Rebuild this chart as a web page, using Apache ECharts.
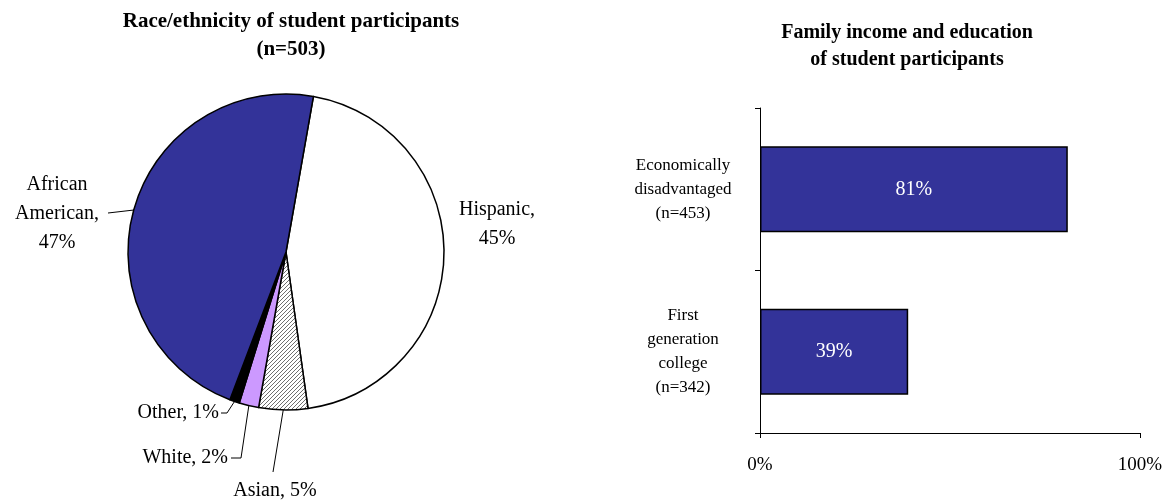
<!DOCTYPE html>
<html>
<head>
<meta charset="utf-8">
<script src="https://cdn.jsdelivr.net/npm/echarts@6/dist/echarts.min.js"></script>
<style>
  html, body { margin: 0; padding: 0; background: #fff; }
  #chart { width: 1170px; height: 501px; }
</style>
</head>
<body>
<div id="chart"></div>
<script>
// race / ethnicity (percent of n=503), clockwise from the top
const raceNames = ['Hispanic', 'Asian', 'White', 'Other', 'African American'];
const raceLabels = ['Hispanic,\n45%', 'Asian, 5%', 'White, 2%', 'Other, 1%', 'African\nAmerican,\n47%'];
const raceValues = [45, 5, 2, 1, 47];

// family income / education
const groupLabels = ['Economically\ndisadvantaged\n(n=453)', 'First\ngeneration\ncollege\n(n=342)'];
const groupValues = [81, 39];
const pctTicks = [0, 100];

const serif = '"Liberation Serif", "Times New Roman", serif';

// grey diagonal hatch for the Asian slice
function hatch() {
    let c = document.createElement('canvas');
    c.width = 8; c.height = 8;
    let ctx = c.getContext('2d');
    let img = ctx.createImageData(8, 8);
    for (let y = 0; y < 8; y++) {
        for (let x = 0; x < 8; x++) {
            let i = (y * 8 + x) * 4;
            let on = (x + y) % 4 == 0;
            let v = on ? 110 : 255;
            img.data[i] = v; img.data[i + 1] = v; img.data[i + 2] = v; img.data[i + 3] = 255;
        }
    }
    ctx.putImageData(img, 0, 0);
    return c;
}

const sliceColors = ['#ffffff', {image: hatch(), repeat: 'repeat'}, '#cc99ff', '#000000', '#333399'];

// where each pie label sits and how its leader line runs
const labelSpots = [
    {x: 497, y: 224, align: 'center', line: null},
    {x: 275, y: 491, align: 'center', line: function (p) { return [p, [273, 472]]; }},
    {x: 228, y: 458, align: 'right', line: function (p) { return [p, [241, 458], [231, 458]]; }},
    {x: 219, y: 413, align: 'right', line: function (p) { return [p, [227, 413], [221, 413]]; }},
    {x: 57, y: 214, align: 'center', line: function (p) { return [p, [108, 213]]; }}
];

let chart = echarts.init(document.getElementById('chart'));

let option = {
    backgroundColor: '#fff',
    animation: false,
    title: [{
        text: 'Race/ethnicity of student participants\n(n=503)',
        left: 286,
        top: 3,
        textAlign: 'center',
        textStyle: {fontFamily: serif, fontWeight: 'bold', fontSize: 21, lineHeight: 28, color: '#000'}
    }, {
        text: 'Family income and education\nof student participants',
        left: 902,
        top: 14,
        textAlign: 'center',
        textStyle: {fontFamily: serif, fontWeight: 'bold', fontSize: 20, lineHeight: 27, color: '#000'}
    }],
    grid: {left: 760, right: 30, top: 108, bottom: 68, containLabel: false},
    xAxis: {
        type: 'value',
        min: pctTicks[0],
        max: pctTicks[1],
        interval: pctTicks[1] - pctTicks[0],
        splitLine: {show: false},
        axisLine: {show: true, lineStyle: {color: '#000', width: 1}},
        axisTick: {show: true, length: 5, lineStyle: {color: '#000'}},
        axisLabel: {formatter: '{value}%', fontFamily: serif, fontSize: 19, color: '#000', margin: 23}
    },
    yAxis: {
        type: 'category',
        inverse: true,
        data: groupLabels,
        axisLine: {show: true, lineStyle: {color: '#000', width: 1}},
        axisTick: {show: true, length: 5, lineStyle: {color: '#000'}},
        axisLabel: {fontFamily: serif, fontSize: 17, lineHeight: 24, color: '#000', align: 'center', margin: 77}
    },
    series: [{
        type: 'pie',
        center: [286, 252],
        radius: 158,
        startAngle: 80,
        clockwise: true,
        avoidLabelOverlap: false,
        itemStyle: {borderColor: '#000', borderWidth: 1.5},
        label: {
            show: true,
            position: 'outside',
            fontFamily: serif,
            fontSize: 20,
            lineHeight: 29,
            color: '#000',
            formatter: function (p) { return raceLabels[p.dataIndex]; }
        },
        labelLine: {show: true, length: 10, length2: 10, lineStyle: {color: '#000', width: 1}},
        labelLayout: function (params) {
            let s = labelSpots[params.dataIndex];
            let out = {x: s.x, y: s.y, align: s.align, verticalAlign: 'middle'};
            if (s.line && params.labelLinePoints) {
                out.labelLinePoints = s.line(params.labelLinePoints[0]);
            }
            return out;
        },
        emphasis: {disabled: true},
        data: raceNames.map(function (n, i) {
            let d = {name: n, value: raceValues[i], itemStyle: {color: sliceColors[i]}};
            if (i == 0) d.labelLine = {show: false};
            return d;
        })
    }, {
        type: 'bar',
        data: groupValues,
        barWidth: 86,
        itemStyle: {color: '#333399', borderColor: '#000', borderWidth: 1.5},
        label: {show: true, position: 'inside', formatter: '{c}%', color: '#fff', fontFamily: serif, fontSize: 20},
        emphasis: {disabled: true}
    }]
};

chart.setOption(option);
window.addEventListener('resize', function () {
    chart.resize();
});
</script>
</body>
</html>
